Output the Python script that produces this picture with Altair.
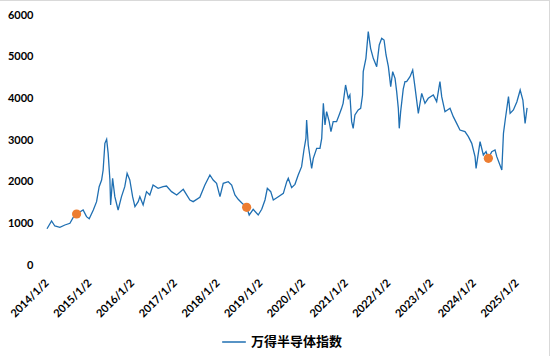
import altair as alt
import pandas as pd

series_name = "万得半导体指数"

dates = [
    "2014-01-02", "2014-02-10", "2014-03-10", "2014-04-22", "2014-06-04", "2014-07-17",
    "2014-08-14", "2014-09-12", "2014-11-07", "2014-12-06", "2014-12-29", "2015-02-02",
    "2015-03-02", "2015-03-24", "2015-04-14", "2015-04-27", "2015-05-12", "2015-05-27",
    "2015-06-09", "2015-06-24", "2015-06-30", "2015-07-17", "2015-08-05", "2015-09-02",
    "2015-10-01", "2015-10-29", "2015-11-18", "2015-12-11", "2016-01-04", "2016-01-24",
    "2016-02-21", "2016-03-06", "2016-04-03", "2016-05-02", "2016-05-30", "2016-06-27",
    "2016-08-09", "2016-09-21", "2016-10-20", "2016-12-02", "2017-01-15", "2017-03-12",
    "2017-05-08", "2017-06-05", "2017-08-01", "2017-09-13", "2017-10-26", "2017-11-23",
    "2017-12-22", "2018-01-20", "2018-02-17", "2018-04-01", "2018-04-30", "2018-05-28",
    "2018-06-25", "2018-07-24", "2018-09-05", "2018-09-27", "2018-10-31", "2018-12-13",
    "2019-01-12", "2019-02-09", "2019-03-01", "2019-03-30", "2019-04-21", "2019-06-03",
    "2019-07-16", "2019-08-14", "2019-08-27", "2019-09-25", "2019-10-23", "2019-11-20",
    "2019-12-19", "2020-01-08", "2020-01-25", "2020-01-31", "2020-02-14", "2020-03-14",
    "2020-03-28", "2020-04-26", "2020-05-24", "2020-06-08", "2020-06-22", "2020-07-06",
    "2020-07-20", "2020-08-11", "2020-08-26", "2020-09-14", "2020-10-13", "2020-11-04",
    "2020-11-25", "2020-12-08", "2020-12-29", "2021-01-21", "2021-02-04", "2021-02-19",
    "2021-03-04", "2021-03-19", "2021-04-16", "2021-05-07", "2021-05-23", "2021-05-29",
    "2021-06-21", "2021-07-11", "2021-07-31", "2021-08-23", "2021-09-21", "2021-10-13",
    "2021-11-03", "2021-11-23", "2021-12-10", "2021-12-30", "2022-01-19", "2022-02-05",
    "2022-02-25", "2022-03-11", "2022-03-25", "2022-04-02", "2022-04-14", "2022-05-06",
    "2022-05-21", "2022-06-04", "2022-07-03", "2022-07-26", "2022-08-14", "2022-09-12",
    "2022-10-11", "2022-11-08", "2022-12-06", "2023-01-18", "2023-02-16", "2023-03-16",
    "2023-03-31", "2023-04-28", "2023-06-10", "2023-07-08", "2023-08-06", "2023-09-03",
    "2023-10-16", "2023-11-14", "2023-12-13", "2024-01-10", "2024-01-19", "2024-02-22",
    "2024-03-21", "2024-04-13", "2024-05-03", "2024-06-01", "2024-06-29", "2024-07-14",
    "2024-08-26", "2024-09-09", "2024-09-24", "2024-10-22", "2024-11-05", "2024-12-03",
    "2025-01-02", "2025-01-30", "2025-02-22", "2025-03-13", "2025-03-30",
]

values = [
    870, 1056, 936, 905, 960, 1000,
    1144, 1224, 1320, 1160, 1112, 1320,
    1520, 1880, 2040, 2280, 2920, 3016,
    2680, 2040, 1440, 2080, 1640, 1320,
    1640, 1880, 2200, 2040, 1640, 1400,
    1520, 1640, 1440, 1760, 1680, 1920,
    1840, 1880, 1896, 1760, 1680, 1816,
    1560, 1520, 1624, 1920, 2160, 2040,
    1960, 1640, 1960, 2000, 1920, 1680,
    1576, 1496, 1384, 1200, 1336, 1200,
    1336, 1560, 1840, 1760, 1560, 1640,
    1720, 2000, 2080, 1856, 1936, 2160,
    2360, 2760, 3040, 3480, 2880, 2320,
    2560, 2800, 2800, 3040, 3880, 3360,
    3680, 3440, 3200, 3440, 3440, 3600,
    3760, 3880, 4320, 4000, 4080, 3440,
    3280, 3600, 3720, 3760, 4080, 4640,
    4960, 5600, 5200, 4960, 4760, 5280,
    5440, 5400, 5040, 4760, 4280, 4640,
    4480, 4160, 3760, 3280, 3680, 4220,
    4400, 4400, 4520, 4680, 4280, 3640,
    4120, 3880, 4000, 4080, 3920, 4400,
    4040, 3680, 3760, 3560, 3400, 3240,
    3200, 3080, 2920, 2600, 2320, 2960,
    2640, 2720, 2560, 2720, 2760, 2600,
    2280, 3160, 3480, 4040, 3640, 3720,
    3920, 4200, 3960, 3400, 3770,
]

dot_dates = ["2014-09-12", "2018-09-05", "2024-05-03"]
dot_values = [1224, 1384, 2560]

x_tick_years = list(range(2014, 2026))
y_ticks = [0, 1000, 2000, 3000, 4000, 5000, 6000]

df = pd.DataFrame({"date": [d + "T00:00:00" for d in dates], "value": values, "series": series_name})
dots = pd.DataFrame({"date": [d + "T00:00:00" for d in dot_dates], "value": dot_values})

FONT = "Lato"
LINE_COLOR = "#1f6fb2"
DOT_COLOR = "#ed7d31"

x_scale = alt.Scale(domain=[alt.DateTime(year=2014, month=1, date=2),
                            alt.DateTime(year=2025, month=4, date=24)])
y_scale = alt.Scale(domain=[0, 6000], nice=False)

x_axis = alt.Axis(
    title=None,
    values=[alt.DateTime(year=y, month=1, date=2) for y in x_tick_years],
    format="%Y/%-m/%-d",
    labelAngle=-45,
    labelAlign="right",
    labelBaseline="middle",
    labelPadding=16,
    labelFont=FONT,
    labelFontSize=11,
    labelFontWeight="bold",
    labelColor="#000000",
    ticks=False,
    domain=False,
    grid=False,
    labelOverlap=False,
)
y_axis = alt.Axis(
    title=None,
    values=y_ticks,
    format="d",
    labelPadding=14,
    labelFont=FONT,
    labelFontSize=11,
    labelFontWeight="bold",
    labelColor="#000000",
    ticks=False,
    domain=False,
    grid=False,
)

line = alt.Chart(df).mark_line(strokeWidth=1.3).encode(
    x=alt.X("date:T", scale=x_scale, axis=x_axis),
    y=alt.Y("value:Q", scale=y_scale, axis=y_axis),
    color=alt.Color(
        "series:N",
        scale=alt.Scale(domain=[series_name], range=[LINE_COLOR]),
        legend=alt.Legend(
            title=None,
            orient="none",
            legendX=174,
            legendY=314,
            symbolType="stroke",
            symbolSize=560,
            symbolStrokeWidth=1.5,
            labelFont="Noto Sans CJK SC",
            labelFontSize=13,
            labelFontWeight="bold",
            labelColor="#000000",
            padding=0,
        ),
    ),
)

pts = alt.Chart(dots).mark_circle(size=85, opacity=1, color=DOT_COLOR).encode(
    x="date:T",
    y="value:Q",
)

border_top = alt.Chart(df).mark_rule(color="#d9d9d9", strokeWidth=1).encode(
    x=alt.value(-47), x2=alt.value(503), y=alt.value(-14.5)
)
border_right = alt.Chart(df).mark_rule(color="#d9d9d9", strokeWidth=1).encode(
    x=alt.value(502.5), y=alt.value(-15), y2=alt.value(341)
)

chart = alt.layer(line, pts, border_top, border_right).properties(
    width=483,
    height=250,
    autosize=alt.AutoSizeParams(type="none"),
    padding={"left": 47, "top": 15, "right": 25, "bottom": 91},
    background="white",
).configure_view(stroke=None)

chart.save("out.html", embed_options={"renderer": "svg", "actions": False})
